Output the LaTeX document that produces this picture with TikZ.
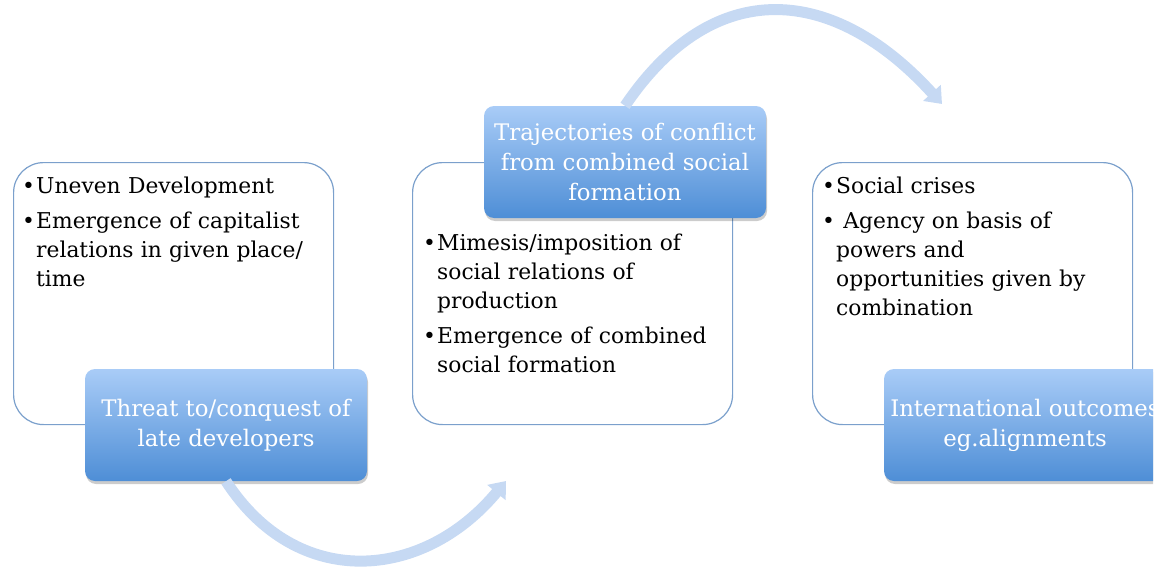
\documentclass[tikz,border=0pt]{standalone}
\usepackage{fontspec}
\setmainfont{DejaVu Serif}
\usetikzlibrary{shadows,arrows.meta}

\definecolor{panelline}{HTML}{7BA0CC}
\definecolor{tagtop}{HTML}{A9CCF7}
\definecolor{tagbottom}{HTML}{4E8ED6}
\definecolor{bendarrow}{HTML}{C6D9F3}

\newcommand{\bitem}[1]{\noindent\hangindent=14pt\hangafter=1\makebox[14pt][l]{\textbullet}#1\par}

\tikzset{
  panel/.style={draw=panelline, line width=1.2pt, fill=white, rounded corners=30pt,
    minimum width=320pt, minimum height=262pt, anchor=north west},
  points/.style={anchor=north west, text width=305pt, inner sep=0pt, align=left,
    font=\fontsize{21.8}{29}\selectfont\setlength{\parskip}{6pt}},
  tag/.style={rounded corners=10pt, top color=tagtop, bottom color=tagbottom,
    minimum width=282pt, minimum height=112pt, text=white, align=center,
    font=\fontsize{22.8}{30}\selectfont,
    drop shadow={shadow xshift=1pt, shadow yshift=-3pt, opacity=0.2, fill=black}},
  curvedarrow/.style={line width=11pt, draw=bendarrow, -{Triangle[width=23pt,length=15pt]}}
}

\begin{document}
\begin{tikzpicture}[x=1pt,y=-1pt]
\useasboundingbox (0,0) rectangle (1168,570);

% the three stages
\node[panel] (origin) at (13,162) {};
\node[panel] (combined) at (412,162) {};
\node[panel] (crisis) at (812,162) {};

\node[points] (originpts) at (22,177) {\bitem{Uneven Development}\bitem{Emergence of capitalist\newline relations in given place/\newline time}};
\node[points] (combinedpts) at (423,234) {\bitem{Mimesis/imposition of\newline social relations of\newline production}\bitem{Emergence of combined\newline social formation}};
\node[points] (crisispts) at (822,177) {\bitem{Social crises}\bitem{ Agency on basis of\newline powers and\newline opportunities given by\newline combination}};

% headings
\node[tag] (threat) at (226,425) {Threat to/conquest of\\late developers};
\node[tag] (trajectory) at (625,162) {Trajectories of conflict\\from combined social\\formation};
\begin{scope}
\clip (0,0) rectangle (1153,570);
\node[tag] (outcome) at (1025,425) {International outcomes\\eg.alignments};
\end{scope}

% bent arrows
\coordinate (tipa) at (506,481);
\coordinate (tipb) at (942,104);
\draw[curvedarrow] (threat.south) .. controls (297,591) and (423,581) .. (tipa);
\draw[curvedarrow] (trajectory.north) .. controls (714,-26) and (834,-15) .. (tipb);
\end{tikzpicture}
\end{document}
